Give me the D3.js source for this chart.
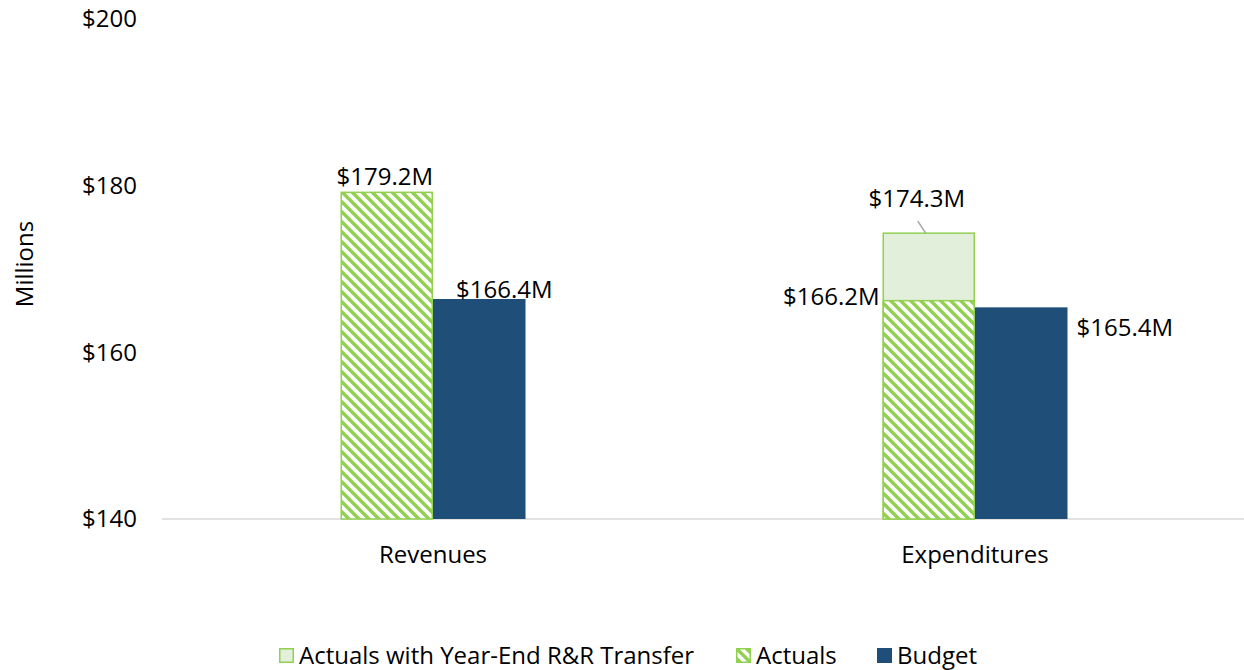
<!DOCTYPE html>
<html>
<head>
<meta charset="utf-8">
<script src="https://cdn.jsdelivr.net/npm/d3@7"></script>
<style>
  body { margin: 0; background: #fff; }
  text { font-family: "Open Sans", sans-serif; fill: #000; }
</style>
</head>
<body>
<div id="chart"></div>
<script>
// chart data
const CATEGORIES = ["Revenues", "Expenditures"];
const ACTUALS = [179.2, 166.2];
const TRANSFER = [null, 174.3];   // actuals with year-end R&R transfer
const BUDGET = [166.4, 165.4];
const Y_TICKS = [140, 160, 180, 200];
const LEGEND = ["Actuals with Year-End R&R Transfer", "Actuals", "Budget"];

const WIDTH = 1244;
const HEIGHT = 670;
const MARGINS = {left: 162, right: -2, top: 19, bottom: 151};
const FONT = "24px";

const GREEN = "#92d050";
const LIGHT = "#e2efda";
const NAVY = "#1f4e79";

const SVG = d3.select("#chart")
              .append("svg")
                .attr("width", WIDTH)
                .attr("height", HEIGHT);

// hatch pattern for the actuals
const PAT = SVG.append("defs")
               .append("pattern")
                 .attr("id", "hatch")
                 .attr("patternUnits", "userSpaceOnUse")
                 .attr("width", 10)
                 .attr("height", 10);
PAT.append("rect").attr("width", 10).attr("height", 10).attr("fill", "#fff");
PAT.append("path")
     .attr("d", "M-5,5 L5,15 M0,0 L10,10 M5,-5 L15,5")
     .attr("stroke", GREEN)
     .attr("stroke-width", 3.4);

const X_SCALE = d3.scaleBand()
                  .domain(CATEGORIES)
                  .range([MARGINS.left, WIDTH - MARGINS.right]);

const BAR_W = 92.5;

const Y_SCALE = d3.scaleLinear()
                  .domain([140, 200])
                  .range([HEIGHT - MARGINS.bottom, MARGINS.top]);

const center = (c) => X_SCALE(c) + X_SCALE.bandwidth() / 2;

// y tick labels
SVG.selectAll("ytick")
   .data(Y_TICKS)
   .enter()
   .append("text")
     .attr("x", 137)
     .attr("y", (d) => Y_SCALE(d))
     .attr("dy", "0.35em")
     .attr("text-anchor", "end")
     .attr("font-size", FONT)
     .text((d) => "$" + d);

// baseline
SVG.append("line")
   .attr("x1", MARGINS.left)
   .attr("x2", WIDTH)
   .attr("y1", Y_SCALE(140))
   .attr("y2", Y_SCALE(140))
   .attr("stroke", "#d9d9d9")
   .attr("stroke-width", 1.5);

// transfer bar (behind actuals)
SVG.selectAll("transfer")
   .data(CATEGORIES.filter((c, i) => TRANSFER[i] != null))
   .enter()
   .append("rect")
     .attr("x", (c) => center(c) - BAR_W + 0.75)
     .attr("y", (c) => Y_SCALE(TRANSFER[CATEGORIES.indexOf(c)]))
     .attr("width", BAR_W - 1.5)
     .attr("height", (c) => Y_SCALE(140) - Y_SCALE(TRANSFER[CATEGORIES.indexOf(c)]))
     .attr("fill", LIGHT)
     .attr("stroke", GREEN)
     .attr("stroke-width", 1.5);

// actuals bars
SVG.selectAll("actual")
   .data(CATEGORIES)
   .enter()
   .append("rect")
     .attr("x", (c) => center(c) - BAR_W + 0.75)
     .attr("y", (c, i) => Y_SCALE(ACTUALS[i]))
     .attr("width", BAR_W - 1.5)
     .attr("height", (c, i) => Y_SCALE(140) - Y_SCALE(ACTUALS[i]))
     .attr("fill", "url(#hatch)")
     .attr("stroke", GREEN)
     .attr("stroke-width", 1.5);

// budget bars
SVG.selectAll("budget")
   .data(CATEGORIES)
   .enter()
   .append("rect")
     .attr("x", (c) => center(c))
     .attr("y", (c, i) => Y_SCALE(BUDGET[i]))
     .attr("width", BAR_W)
     .attr("height", (c, i) => Y_SCALE(140) - Y_SCALE(BUDGET[i]))
     .attr("fill", NAVY);

// category labels
SVG.selectAll("cat")
   .data(CATEGORIES)
   .enter()
   .append("text")
     .attr("x", (c) => center(c))
     .attr("y", 563)
     .attr("text-anchor", "middle")
     .attr("font-size", FONT)
     .text((c) => c);

// value labels
const fmt = (v) => "$" + v.toFixed(1) + "M";
const r = center("Revenues"), e = center("Expenditures");
const LABELS = [
  {x: r - BAR_W / 2 - 2, y: Y_SCALE(ACTUALS[0]) - 7, a: "middle", v: ACTUALS[0]},
  {x: r + BAR_W / 2 + 25, y: Y_SCALE(BUDGET[0]) - 1, a: "middle", v: BUDGET[0]},
  {x: e - BAR_W - 3, y: Y_SCALE(ACTUALS[1]) + 4, a: "end", v: ACTUALS[1]},
  {x: e + BAR_W + 9, y: Y_SCALE(BUDGET[1]) + 29, a: "start", v: BUDGET[1]},
  {x: e - BAR_W / 2 - 12, y: Y_SCALE(TRANSFER[1]) - 26, a: "middle", v: TRANSFER[1]}
];
SVG.selectAll("vlabel")
   .data(LABELS)
   .enter()
   .append("text")
     .attr("x", (d) => d.x)
     .attr("y", (d) => d.y)
     .attr("text-anchor", (d) => d.a)
     .attr("font-size", FONT)
     .text((d) => fmt(d.v));

// leader line for the transfer label
SVG.append("line")
   .attr("x1", e - BAR_W / 2 - 11)
   .attr("y1", Y_SCALE(TRANSFER[1]) - 12)
   .attr("x2", e - BAR_W / 2 - 3)
   .attr("y2", Y_SCALE(TRANSFER[1]))
   .attr("stroke", "#a6a6a6")
   .attr("stroke-width", 1.5);

// y axis title
SVG.append("text")
   .attr("transform", "translate(33,264) rotate(-90)")
   .attr("text-anchor", "middle")
   .attr("font-size", FONT)
   .text("Millions");

// legend
const LEG_X = [279, 736, 877];
const LEG_FILL = [LIGHT, "url(#hatch)", NAVY];
const LEG_STROKE = [GREEN, GREEN, NAVY];
const LEG = SVG.selectAll("legend")
               .data(LEGEND)
               .enter()
               .append("g")
                 .attr("transform", (d, i) => "translate(" + LEG_X[i] + ",648)");
LEG.append("rect")
   .attr("x", 0.75)
   .attr("y", 0.75)
   .attr("width", 13.5)
   .attr("height", 13.5)
   .attr("fill", (d, i) => LEG_FILL[i])
   .attr("stroke", (d, i) => LEG_STROKE[i])
   .attr("stroke-width", 1.5);
LEG.append("text")
   .attr("x", 20)
   .attr("y", 16)
   .attr("font-size", FONT)
   .text((d) => d);
</script>
</body>
</html>
